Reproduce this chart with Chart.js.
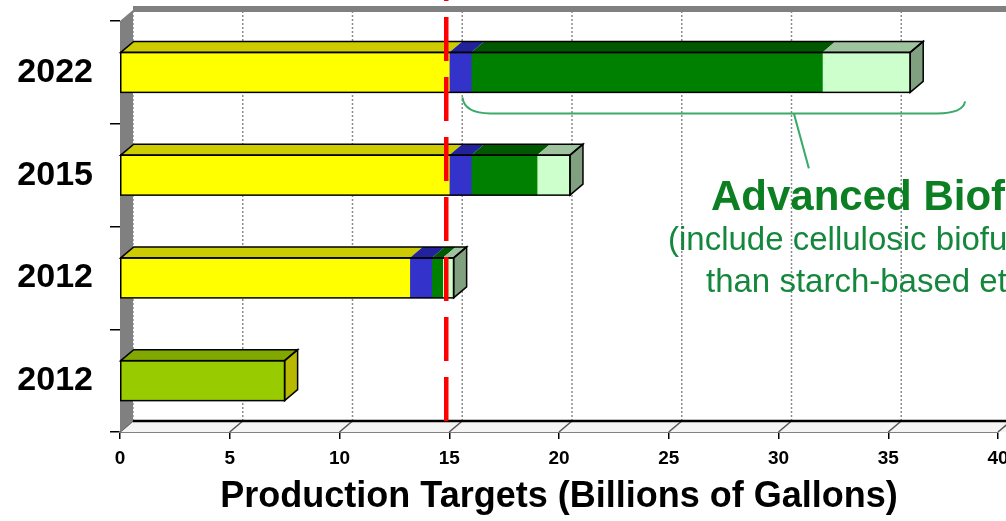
<!DOCTYPE html>
<html>
<head>
<meta charset="utf-8">
<script src="https://cdn.jsdelivr.net/npm/chart.js@4.4.1/dist/chart.umd.min.js"></script>
<style>
  html, body { margin: 0; padding: 0; background: #fff; }
</style>
</head>
<body>
<canvas id="targets" width="1006" height="521"></canvas>
<script>
// RFS production targets, billions of gallons
const years = ['2022', '2015', '2012', '2012'];
const starchEthanol = [15, 15, 13.2, 0];
const biomassDiesel = [1, 1, 1, 0];
const cellulosic = [16, 3, 0.5, 0];
const otherAdvanced = [4, 1.5, 0.5, 0];
const oldRfs = [0, 0, 0, 7.5];
const xMax = 40;
const xStep = 5;
const capValue = 15;

// depth of the fake 3d boxes
const DX = 13, DY = -11;

function poly(ctx, pts) {
    ctx.beginPath();
    ctx.moveTo(pts[0][0], pts[0][1]);
    for (let i = 1; i < pts.length; i++) ctx.lineTo(pts[i][0], pts[i][1]);
    ctx.closePath();
}

const box3d = {
    id: 'box3d',
    beforeDatasetsDraw(chart) {
        const ctx = chart.ctx, a = chart.chartArea, x = chart.scales.x;
        ctx.save();
        // floor
        ctx.fillStyle = '#f4f4f4';
        poly(ctx, [[a.left, a.bottom], [chart.width, a.bottom], [chart.width, a.bottom + DY], [a.left + DX, a.bottom + DY]]);
        ctx.fill();
        // grid: slanted on the floor, dotted on the back wall
        x.ticks.forEach(t => {
            const px = x.getPixelForValue(t.value);
            ctx.setLineDash([]);
            ctx.strokeStyle = '#555';
            ctx.lineWidth = 1.5;
            ctx.beginPath();
            ctx.moveTo(px, a.bottom);
            ctx.lineTo(px + DX, a.bottom + DY);
            ctx.stroke();
            ctx.setLineDash([2, 2]);
            ctx.strokeStyle = '#8c8c8c';
            ctx.lineWidth = 1.5;
            ctx.beginPath();
            ctx.moveTo(px + DX, a.bottom + DY);
            ctx.lineTo(px + DX, a.top + DY);
            ctx.stroke();
        });
        ctx.setLineDash([]);
        // back edge of the floor
        ctx.strokeStyle = '#000';
        ctx.lineWidth = 2.5;
        ctx.beginPath();
        ctx.moveTo(a.left + DX, a.bottom + DY);
        ctx.lineTo(chart.width, a.bottom + DY);
        ctx.stroke();
        // left wall
        ctx.fillStyle = '#808080';
        poly(ctx, [[a.left, a.bottom], [a.left + DX, a.bottom + DY], [a.left + DX, a.top + DY], [a.left, a.top]]);
        ctx.fill();
        // top edge of the back wall
        ctx.fillRect(a.left + DX, a.top + DY - 4, chart.width, 6);
        ctx.restore();
    },
    afterDatasetsDraw(chart) {
        const ctx = chart.ctx;
        ctx.save();
        ctx.strokeStyle = '#000';
        ctx.lineWidth = 1.5;
        chart.data.labels.forEach((lab, i) => {
            let first = null, last = null;
            chart.data.datasets.forEach((ds, di) => {
                if (!ds.data[i]) return;
                const p = chart.getDatasetMeta(di).data[i].getProps(['x', 'y', 'base', 'height'], true);
                const top = p.y - p.height / 2, bot = p.y + p.height / 2;
                ctx.fillStyle = ds.topColor;
                poly(ctx, [[p.base, top], [p.x, top], [p.x + DX, top + DY], [p.base + DX, top + DY]]);
                ctx.fill();
                if (!first) first = { base: p.base, top, bot };
                last = { x: p.x, top, bot, ds };
            });
            if (!last) return;
            // right side of the stack
            ctx.fillStyle = last.ds.sideColor;
            poly(ctx, [[last.x, last.top], [last.x + DX, last.top + DY], [last.x + DX, last.bot + DY], [last.x, last.bot]]);
            ctx.fill();
            ctx.stroke();
            // outline of the box
            ctx.strokeRect(first.base, first.top, last.x - first.base, last.bot - last.top);
            poly(ctx, [[first.base, first.top], [first.base + DX, first.top + DY], [last.x + DX, last.top + DY], [last.x, last.top]]);
            ctx.stroke();
        });

        // red dashed limit line
        const a = chart.chartArea;
        const cx = chart.scales.x.getPixelForValue(capValue) - 3;
        ctx.strokeStyle = '#ff0000';
        ctx.lineWidth = 4.5;
        ctx.setLineDash([44, 16]);
        ctx.beginPath();
        ctx.moveTo(cx, a.bottom + DY);
        ctx.lineTo(cx, 0);
        ctx.stroke();
        ctx.restore();
    },
    afterDraw(chart) {
        const ctx = chart.ctx, x = chart.scales.x;
        const row = chart.getDatasetMeta(0).data[0];
        const by = row.y + row.height / 2 + 21;
        const x0 = x.getPixelForValue(15.6), x1 = x.getPixelForValue(38.5);
        const xp = x.getPixelForValue(30.7);
        ctx.save();
        ctx.strokeStyle = '#3aaa6a';
        ctx.lineWidth = 2;
        ctx.beginPath();
        ctx.moveTo(x0, by - 16);
        ctx.quadraticCurveTo(x0 + 2, by, x0 + 28, by);
        ctx.lineTo(x1 - 28, by);
        ctx.quadraticCurveTo(x1 - 2, by, x1, by - 12);
        ctx.stroke();
        ctx.beginPath();
        ctx.moveTo(xp, by);
        ctx.lineTo(xp + 15, by + 55);
        ctx.stroke();

        ctx.textAlign = 'left';
        ctx.textBaseline = 'alphabetic';
        ctx.fillStyle = '#0b7f22';
        ctx.font = 'bold 42px "Liberation Sans", Arial, sans-serif';
        ctx.fillText('Advanced Biofuels', 711, 210);
        ctx.fillStyle = '#14873c';
        ctx.font = '33px "Liberation Sans", Arial, sans-serif';
        ctx.fillText('(include cellulosic biofuels and others', 668, 250);
        ctx.fillText('than starch-based ethanol)', 706, 292);
        ctx.restore();
    }
};

Chart.defaults.font.family = '"Liberation Sans", Arial, sans-serif';
Chart.defaults.color = '#000';

new Chart(document.getElementById('targets'), {
    type: 'bar',
    data: {
        labels: years,
        datasets: [
            { label: 'Starch-based ethanol', data: starchEthanol, backgroundColor: '#ffff00', topColor: '#cccc00', sideColor: '#b3b300' },
            { label: 'Biomass-based diesel', data: biomassDiesel, backgroundColor: '#3333cc', topColor: '#22229a', sideColor: '#22229a' },
            { label: 'Cellulosic biofuels', data: cellulosic, backgroundColor: '#008000', topColor: '#005800', sideColor: '#005800' },
            { label: 'Other advanced biofuels', data: otherAdvanced, backgroundColor: '#ccffcc', topColor: '#9fc29f', sideColor: '#80a080' },
            { label: 'RFS (2005)', data: oldRfs, backgroundColor: '#99cc00', topColor: '#80a800', sideColor: '#b8b800' }
        ]
    },
    options: {
        indexAxis: 'y',
        responsive: false,
        animation: false,
        devicePixelRatio: 1,
        layout: { padding: { top: 21, right: 8 } },
        datasets: { bar: { barThickness: 40, borderWidth: 0 } },
        plugins: { legend: { display: false }, tooltip: { enabled: false } },
        scales: {
            x: {
                stacked: true,
                min: 0,
                max: xMax,
                ticks: { stepSize: xStep, padding: 8, font: { size: 19, weight: 'bold' } },
                grid: { drawOnChartArea: false, tickLength: 7, color: '#000', lineWidth: 1.5 },
                border: { color: '#808080', width: 2 },
                title: {
                    display: true,
                    text: 'Production Targets (Billions of Gallons)',
                    font: { size: 36, weight: 'bold' },
                    padding: { top: 0, bottom: 2 }
                },
                afterFit(s) { s.height = 89; s.paddingLeft = 0; s.paddingRight = 0; }
            },
            y: {
                stacked: true,
                ticks: { padding: 17, font: { size: 34, weight: 'bold' } },
                grid: { drawOnChartArea: false, tickLength: 10, color: '#000', lineWidth: 1.5 },
                border: { display: false },
                afterFit(s) { s.width = 120; s.paddingTop = 0; s.paddingBottom = 0; }
            }
        }
    },
    plugins: [box3d]
});
</script>
</body>
</html>
